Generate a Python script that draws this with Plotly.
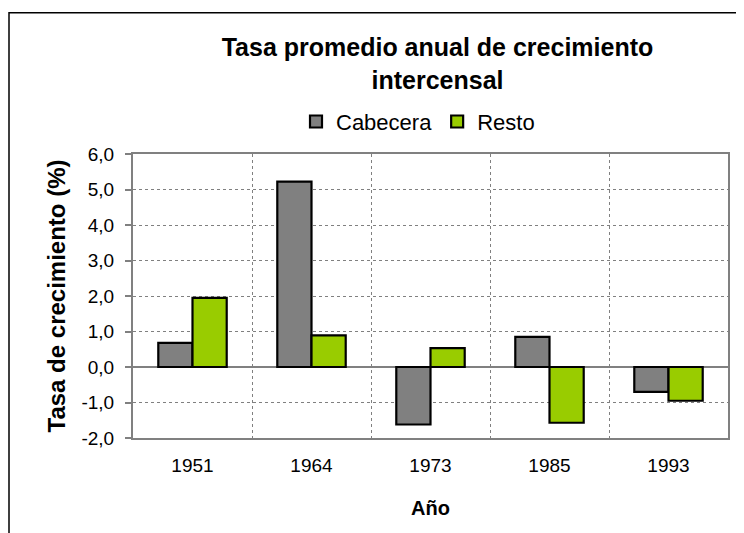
import plotly.graph_objects as go

years = ["1951", "1964", "1973", "1985", "1993"]
cabecera = [0.68, 5.22, -1.62, 0.85, -0.70]
resto = [1.95, 0.89, 0.53, -1.57, -0.95]
y_ticks = [-2, -1, 0, 1, 2, 3, 4, 5, 6]
y_ticktext = [f"{v:.1f}".replace(".", ",") for v in y_ticks]

FONT = "Liberation Sans, Arial, sans-serif"
GRID = "#808080"

fig = go.Figure()
fig.add_trace(go.Bar(name="Cabecera", x=years, y=cabecera,
                     marker=dict(color="#808080", line=dict(color="black", width=2.2))))
fig.add_trace(go.Bar(name="Resto", x=years, y=resto,
                     marker=dict(color="#99CC00", line=dict(color="black", width=2.2))))

# plot area in figure pixels: x 125..720, y 146..430
fig.update_layout(
    width=744, height=533,
    margin=dict(l=125, r=24, t=146, b=103),
    paper_bgcolor="white", plot_bgcolor="white",
    font=dict(family=FONT, color="black"),
    barmode="group", bargap=0.425, bargroupgap=0,
    title=dict(text="<b>Tasa promedio anual de crecimiento<br>intercensal</b>",
               font=dict(size=25, family=FONT, color="black"),
               x=(429.5 - 125) / 595, xref="paper", xanchor="center",
               y=1 - 48 / 533, yref="container", yanchor="top"),
    legend=dict(orientation="h", x=(410 - 125) / 595, xanchor="center",
                y=(430 - 113.7) / 284, yanchor="middle",
                font=dict(size=22, family=FONT), bgcolor="rgba(0,0,0,0)",
                traceorder="normal"),
    showlegend=True,
)

fig.update_xaxes(
    type="category", tickson="boundaries", ticks="",
    showgrid=True, gridcolor=GRID, griddash="dot", gridwidth=1,
    showline=True, linecolor=GRID, linewidth=2, mirror=True,
    tickfont=dict(size=19, family=FONT), ticklabelstandoff=9,
    title=dict(text="<b>Año</b>", font=dict(size=20, family=FONT), standoff=26),
)
fig.update_yaxes(
    range=[-2, 6], tickvals=y_ticks, ticktext=y_ticktext,
    ticks="outside", ticklen=6, tickcolor=GRID, tickwidth=1.5,
    showgrid=True, gridcolor=GRID, griddash="dot", gridwidth=1,
    zeroline=True, zerolinecolor=GRID, zerolinewidth=2,
    showline=True, linecolor=GRID, linewidth=2, mirror=True,
    tickfont=dict(size=19, family=FONT), ticklabelstandoff=7,
    title=dict(text="<b>Tasa de crecimiento (%)</b>", font=dict(size=24, family=FONT), standoff=9),
)

# outer chart frame
fig.add_shape(type="rect", xref="paper", yref="paper",
              x0=(1 - 125) / 595, x1=2, y0=-1, y1=(430 - 4.7) / 284,
              line=dict(color="black", width=1.5), fillcolor="rgba(0,0,0,0)", layer="below")

fig.write_html("out.html")
